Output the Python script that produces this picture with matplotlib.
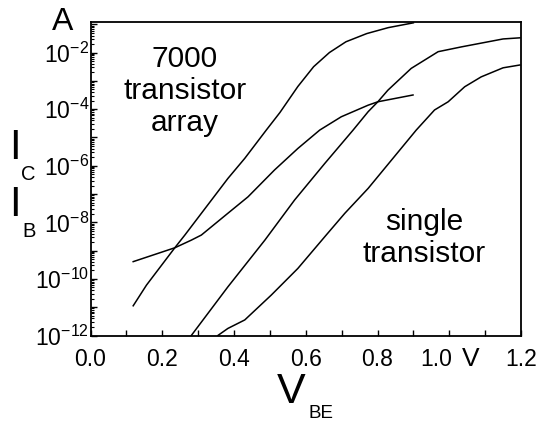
import numpy as np
import matplotlib
matplotlib.use('Agg')
import matplotlib.pyplot as plt
from matplotlib.ticker import LogLocator, FixedLocator, MultipleLocator, FuncFormatter, NullFormatter

plt.rcParams['font.family'] = ['Liberation Sans', 'DejaVu Sans']
plt.rcParams['mathtext.fontset'] = 'custom'
plt.rcParams['mathtext.rm'] = 'Liberation Sans'
plt.rcParams['mathtext.it'] = 'Liberation Sans:italic'
plt.rcParams['mathtext.bf'] = 'Liberation Sans:bold'

# ========== data (V_BE in V, log10 of current in A) ==========
# 7000 transistor array, collector current
v_array_ic = [0.119, 0.156, 0.235, 0.263, 0.383, 0.430, 0.490, 0.528, 0.578,
              0.622, 0.666, 0.712, 0.770, 0.830, 0.900]
log_array_ic = [-10.95, -10.22, -8.90, -8.45, -6.45, -5.74, -4.74, -4.12, -3.20,
                -2.50, -2.00, -1.62, -1.33, -1.12, -0.95]

# 7000 transistor array, base current
v_array_ib = [0.119, 0.235, 0.281, 0.309, 0.383, 0.439, 0.513, 0.578, 0.639,
              0.699, 0.774, 0.801, 0.899]
log_array_ib = [-9.39, -8.90, -8.63, -8.45, -7.68, -7.10, -6.15, -5.39, -4.74,
                -4.27, -3.86, -3.74, -3.50]

# single transistor, collector current
v_single_ic = [0.281, 0.383, 0.486, 0.569, 0.653, 0.732, 0.774, 0.801, 0.829,
               0.894, 0.969, 1.034, 1.150, 1.197]
log_single_ic = [-12.0, -10.28, -8.63, -7.21, -5.92, -4.74, -4.09, -3.74, -3.33,
                 -2.56, -1.97, -1.80, -1.52, -1.48]

# single transistor, base current
v_single_ib = [0.355, 0.383, 0.430, 0.504, 0.578, 0.657, 0.709, 0.774, 0.908,
               0.959, 0.997, 1.043, 1.089, 1.150, 1.197]
log_single_ib = [-12.0, -11.75, -11.45, -10.57, -9.63, -8.45, -7.68, -6.80, -4.74,
                 -4.03, -3.74, -3.21, -2.86, -2.54, -2.44]

# x tick labels (the "1.0" is pushed left in the original to make room for "V")
xlabel_pos = [0.0, 0.2, 0.4, 0.6, 0.8, 0.963, 1.2]
xlabel_txt = ['0.0', '0.2', '0.4', '0.6', '0.8', '1.0', '1.2']

# ========== plot ==========
W, H = 541, 425
fig = plt.figure(figsize=(W / 100, H / 100), dpi=100)
ax = fig.add_axes([90.5 / W, 1 - 335.5 / H, (521 - 90.5) / W, (335.5 - 22) / H])

curves = [(v_array_ic, log_array_ic), (v_array_ib, log_array_ib),
          (v_single_ic, log_single_ic), (v_single_ib, log_single_ib)]
for v, lg in curves:
    ax.plot(v, 10.0 ** np.array(lg), color='black', linewidth=1.1)

ax.set_yscale('log')
ax.set_xlim(0, 1.2)
ax.set_ylim(1e-12, 0.12)

# y axis ticks: every decade, label every second one
ax.yaxis.set_major_locator(LogLocator(base=10, numticks=20))
ax.yaxis.set_minor_locator(LogLocator(base=10, subs=np.arange(2, 10), numticks=20))
ax.yaxis.set_major_formatter(FuncFormatter(
    lambda y, pos: r'$\mathregular{10^{%d}}$' % round(np.log10(y)) if round(np.log10(y)) % 2 == 0 else ''))
ax.yaxis.set_minor_formatter(NullFormatter())

# x axis: labels without marks (major), marks every 0.1 (minor)
ax.xaxis.set_major_locator(FixedLocator(xlabel_pos))
ax.set_xticklabels(xlabel_txt)
ax.xaxis.set_minor_locator(MultipleLocator(0.1))
ax.xaxis.remove_overlapping_locs = False

ax.tick_params(axis='y', which='major', direction='in', length=4.5, width=1, pad=1, labelsize=16.5)
ax.tick_params(axis='y', which='minor', direction='in', length=2, width=0.8)
ax.tick_params(axis='x', which='major', direction='in', length=0, pad=9, labelsize=16.5)
ax.tick_params(axis='x', which='minor', direction='in', length=4, width=1)
for s in ax.spines.values():
    s.set_linewidth(1.3)

# annotations
ax.text(0.263, 10 ** -3.36, '7000\ntransistor\narray', ha='center', va='center',
        fontsize=21.5, linespacing=1.2)
ax.text(0.93, 10 ** -8.55, 'single\ntransistor', ha='center', va='center',
        fontsize=21.5, linespacing=1.2)

# axis labels drawn as separate pieces like the original
fig.text(62.5 / W, 1 - 21.7 / H, 'A', ha='center', va='center', fontsize=23)
fig.text(470.7 / W, 1 - 359.5 / H, 'V', ha='center', va='center', fontsize=19)
fig.text(14.5 / W, 1 - 148 / H, 'I', ha='center', va='center', fontsize=30)
fig.text(28.5 / W, 1 - 175 / H, 'C', ha='center', va='center', fontsize=14.5)
fig.text(14.5 / W, 1 - 205 / H, 'I', ha='center', va='center', fontsize=30)
fig.text(29.5 / W, 1 - 231.5 / H, 'B', ha='center', va='center', fontsize=14.5)
fig.text(291.5 / W, 1 - 392 / H, 'V', ha='center', va='center', fontsize=31)
fig.text(320.5 / W, 1 - 413.5 / H, 'BE', ha='center', va='center', fontsize=13.5)

fig.savefig('out.png', dpi=100)
